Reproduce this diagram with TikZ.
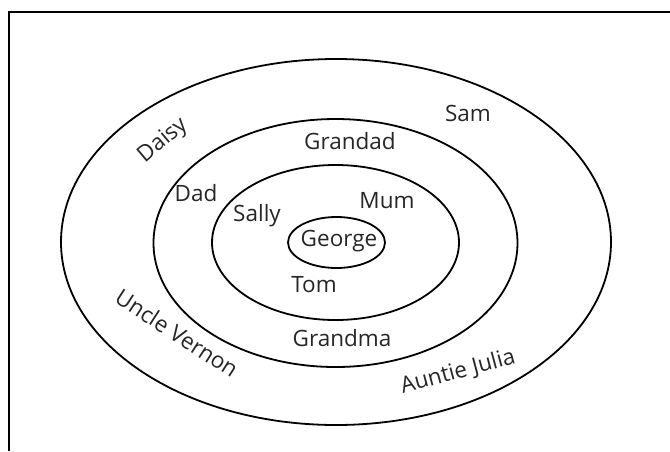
\documentclass[tikz,border=0pt]{standalone}
\usepackage{fontspec}
\setmainfont{Open Sans}
\begin{document}
\begin{tikzpicture}[x=1pt,y=-1pt,
  ring/.style={draw=black,line width=1.8pt},
  lbl/.style={font=\fontsize{22.5}{22.5}\selectfont,inner sep=0pt,text=black!85}]
\useasboundingbox (0,0) rectangle (670,451);
\draw[line width=1.8pt] (9,451) -- (9,12) -- (670,12);
\draw[ring] (336,242) ellipse [x radius=275,y radius=183];
\draw[ring] (335.5,243) ellipse [x radius=182,y radius=124];
\draw[ring] (335.5,242.5) ellipse [x radius=123.5,y radius=77.5];
\draw[ring] (336.5,242.5) ellipse [x radius=48.5,y radius=25.5];
\node[lbl] (george) at (339,241) {George};
\node[lbl] (sally) at (257,216) {Sally};
\node[lbl] (mum) at (387,201) {Mum};
\node[lbl] (tom) at (314,285) {Tom};
\node[lbl] (grandma) at (342,338) {Grandma};
\node[lbl] (grandad) at (350,141) {Grandad};
\node[lbl] (dad) at (196,193) {Dad};
\node[lbl,rotate=40] (daisy) at (163,141) {Daisy};
\node[lbl] (sam) at (468,113) {Sam};
\node[lbl,rotate=-33] (vernon) at (177,333) {Uncle Vernon};
\node[lbl,rotate=15] (julia) at (458,372) {Auntie Julia};
\end{tikzpicture}
\end{document}
